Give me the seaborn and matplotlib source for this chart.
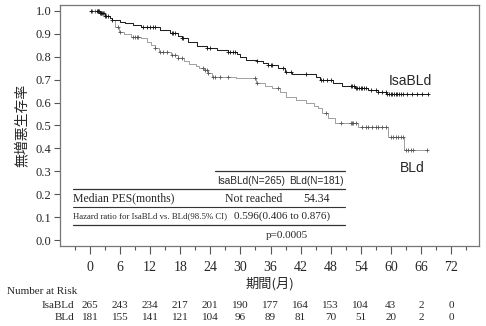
import numpy as np
import pandas as pd
import matplotlib
matplotlib.use("Agg")
import matplotlib.pyplot as plt
import matplotlib.transforms as mtransforms
from matplotlib.lines import Line2D
import seaborn as sns

# ---------------- data ----------------
isa_time = [0, 2, 3, 4, 4.4, 6, 7, 8.6, 10.2, 14, 16, 17.6, 18.4, 19.6, 21.4, 23.4,
            25.3, 27.5, 29.3, 29.9, 31.1, 33.3, 34.5, 35.5, 37.5, 38.9, 40.3, 45.1,
            45.9, 48.5, 50.3, 52.9, 55.5, 57.5, 59.1]
isa_surv = [1.0, 0.99, 0.98, 0.97, 0.96, 0.953, 0.946, 0.939, 0.93, 0.917, 0.902, 0.89,
            0.88, 0.866, 0.849, 0.837, 0.83, 0.822, 0.81, 0.80, 0.786, 0.78, 0.772,
            0.764, 0.75, 0.735, 0.724, 0.712, 0.70, 0.684, 0.674, 0.662, 0.655, 0.648,
            0.637]
isa_cens = [0.2, 1.4, 1.6, 1.8, 2.0, 2.2, 2.4, 2.6, 3.0, 3.2, 3.6, 4.4, 10.6, 11.4, 12,
            12.6, 13, 16.4, 16.6, 17, 18.4, 18.6, 23.4, 24, 27.6, 28, 28.6, 29, 33.3,
            35.5, 36, 36.3, 38.5, 39, 40, 43, 46, 46.5, 47.3, 48, 52, 52.3, 52.6, 53,
            53.3, 53.6, 54, 54.3, 54.6, 55, 56, 57, 57.5, 58.3, 59, 59.3, 59.6, 60,
            60.3, 60.6, 61, 61.3, 61.6, 62, 62.5, 63.3, 64.3, 65.3, 66.3, 67.5]

bld_time = [0, 2, 3, 4, 4.4, 5, 5.8, 6.8, 8.2, 10.2, 11.4, 12.2, 13, 13.8, 16.2, 17.6,
            18.8, 19.8, 21.2, 21.8, 22.8, 23.6, 24.4, 29.1, 33.1, 34.9, 36.3, 37.9,
            39.1, 41.1, 43.1, 44.7, 45.5, 46.3, 47.5, 48.9, 53.5, 59.5, 62.6]
bld_surv = [1.0, 0.99, 0.98, 0.97, 0.96, 0.93, 0.91, 0.898, 0.888, 0.88, 0.866, 0.851,
            0.837, 0.822, 0.808, 0.796, 0.78, 0.77, 0.76, 0.752, 0.742, 0.728, 0.713,
            0.706, 0.684, 0.672, 0.662, 0.648, 0.626, 0.611, 0.597, 0.585, 0.575,
            0.553, 0.531, 0.512, 0.495, 0.451, 0.393]
bld_cens = [0.4, 1.0, 1.5, 2.2, 2.8, 5.6, 6, 8.6, 9, 9.4, 9.6, 13, 14, 14.6, 15.4, 16.4,
            17, 17.6, 18.4, 22.6, 23, 23.4, 23.6, 24.6, 25, 26, 27.6, 33, 33.3, 37.5,
            47, 50, 52, 52.3, 52.5, 53, 54.3, 55, 55.5, 56.3, 57, 57.5, 58.3, 59, 60,
            60.5, 61, 61.5, 62, 62.5, 63, 63.5, 64, 64.5, 67.3]

risk_times = [0, 6, 12, 18, 24, 30, 36, 42, 48, 54, 60, 66, 72]
risk_isa = [265, 243, 234, 217, 201, 190, 177, 164, 153, 104, 43, 2, 0]
risk_bld = [181, 155, 141, 121, 104, 96, 89, 81, 70, 51, 20, 2, 0]

arms = ["IsaBLd", "BLd"]
x_ticks = [0, 6, 12, 18, 24, 30, 36, 42, 48, 54, 60, 66, 72]
y_ticks = [0.0, 0.1, 0.2, 0.3, 0.4, 0.5, 0.6, 0.7, 0.8, 0.9, 1.0]

# ---------------- style ----------------
sns.set_style("white")
plt.rcParams["font.family"] = ["Liberation Serif", "Noto Sans CJK JP", "DejaVu Sans"]
SERIF = ["Liberation Serif", "Noto Sans CJK JP"]
SANS = ["Liberation Sans", "DejaVu Sans"]
CJK = ["Noto Sans CJK JP", "DejaVu Sans"]

fig = plt.figure(figsize=(4.86, 3.26), dpi=100)
ax = fig.add_axes([0.1235, 0.2454, 0.8621, 0.7393])


def curve_frame(times, surv, cens):
    end = max(max(cens), times[-1])
    t = list(times) + [end]
    s = list(surv) + [surv[-1]]
    return pd.DataFrame({"time": t, "surv": s})


def cens_frame(times, surv, cens):
    idx = np.searchsorted(np.array(times), np.array(cens), side="right") - 1
    return pd.DataFrame({"time": cens, "surv": np.array(surv)[idx]})


styles = {"IsaBLd": dict(color="#222222", lw=0.75, mc="#111111"),
          "BLd": dict(color="#999999", lw=0.65, mc="#555555")}
data = {"IsaBLd": (isa_time, isa_surv, isa_cens), "BLd": (bld_time, bld_surv, bld_cens)}

for arm in ["BLd", "IsaBLd"]:
    t, s, c = data[arm]
    st = styles[arm]
    sns.lineplot(data=curve_frame(t, s, c), x="time", y="surv", ax=ax,
                 drawstyle="steps-post", color=st["color"], linewidth=st["lw"],
                 estimator=None, sort=False)
    sns.scatterplot(data=cens_frame(t, s, c), x="time", y="surv", ax=ax,
                    marker="+", s=10, color=st["mc"], linewidth=0.6, zorder=3)

ax.set_xlim(-6, 77.6)
ax.set_ylim(-0.026, 1.026)
ax.set_xticks(x_ticks)
ax.set_xticks(np.arange(-3, 76, 3), minor=True)
ax.set_yticks(y_ticks)
ax.set_xticklabels([str(v) for v in x_ticks], fontsize=10, family=SERIF)
ax.set_yticklabels([f"{v:.1f}" for v in y_ticks], fontsize=9, family=SERIF)
ax.tick_params(axis="both", which="major", direction="out", length=4, width=0.8,
               color="#555555", pad=2, bottom=True, left=True)
ax.tick_params(axis="x", which="major", length=6, pad=5)
ax.tick_params(axis="x", which="minor", direction="out", length=3, width=0.8,
               color="#555555", bottom=True)
for sp in ax.spines.values():
    sp.set_color("#777777")
    sp.set_linewidth(0.9)

ax.set_xlabel("期間(月)", fontsize=9.5, family=CJK, labelpad=2)
ax.set_ylabel("無増悪生存率", fontsize=10, family=CJK, labelpad=5)

# curve labels
ax.text(63.9, 0.694, "IsaBLd", fontsize=10, family=SANS, ha="center", va="center")
ax.text(64.3, 0.314, "BLd", fontsize=10, family=SANS, ha="center", va="center")

# summary table inside the axes
T = ax.transAxes
for x0, x1, y, lw in [(0.370, 0.680, 0.312, 0.9), (0.031, 0.680, 0.235, 0.9),
                      (0.031, 0.680, 0.161, 0.8), (0.031, 0.680, 0.086, 0.9)]:
    ax.add_line(Line2D([x0, x1], [y, y], transform=T, color="#333333", lw=lw))
ax.text(0.456, 0.271, "IsaBLd(N=265)", transform=T, fontsize=7.2, family=SANS,
        ha="center", va="center")
ax.text(0.612, 0.271, "BLd(N=181)", transform=T, fontsize=7.2, family=SANS,
        ha="center", va="center")
ax.text(0.031, 0.197, "Median PES(months)", transform=T, fontsize=8.5, family=SERIF,
        ha="left", va="center")
ax.text(0.463, 0.197, "Not reached", transform=T, fontsize=8.5, family=SERIF,
        ha="center", va="center")
ax.text(0.613, 0.197, "54.34", transform=T, fontsize=8.5, family=SERIF,
        ha="center", va="center")
ax.text(0.031, 0.124, "Hazard ratio for IsaBLd vs. BLd(98.5% CI)", transform=T,
        fontsize=6.3, family=SERIF, ha="left", va="center")
ax.text(0.530, 0.124, "0.596(0.406 to 0.876)", transform=T, fontsize=8, family=SERIF,
        ha="center", va="center")
ax.text(0.542, 0.043, "p=0.0005", transform=T, fontsize=8, family=SERIF,
        ha="center", va="center")

# number at risk
blend = mtransforms.blended_transform_factory(ax.transData, fig.transFigure)
fig.text(0.0144, 1 - 291 / 326, "Number at Risk", fontsize=8, family=SERIF,
         ha="left", va="center")
for lab, vals, ypx in [("IsaBLd", risk_isa, 305), ("BLd", risk_bld, 317)]:
    fy = 1 - ypx / 326
    fig.text(0.153, fy, lab, fontsize=8, family=SERIF, ha="right", va="center")
    for t, v in zip(risk_times, vals):
        ax.text(t, fy, str(v), transform=blend, fontsize=8, family=SERIF,
                ha="center", va="center", clip_on=False)

fig.savefig("out.png", dpi=100)
